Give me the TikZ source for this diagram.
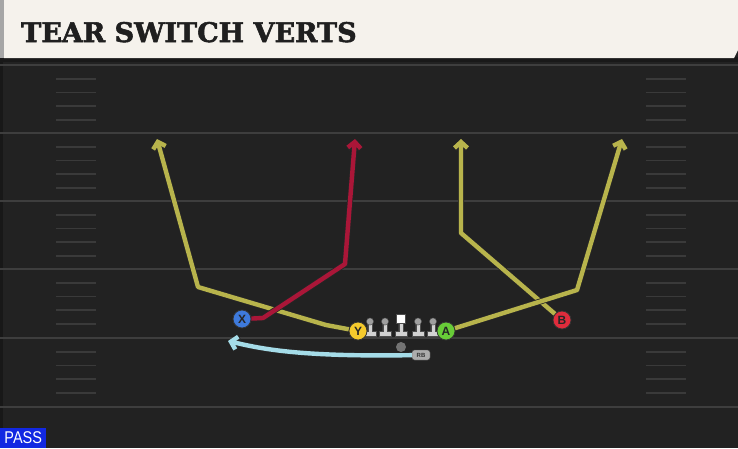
\documentclass[tikz,border=0pt]{standalone}
\usepackage{fontspec}
\usetikzlibrary{arrows.meta}
\newfontfamily\titlefont{DejaVu Serif}[BoldFeatures={FakeBold=2}]
\newfontfamily\labelfont{Liberation Sans}
\definecolor{field}{RGB}{34,34,34}
\definecolor{yardline}{RGB}{62,62,62}
\definecolor{hashgray}{RGB}{58,58,58}
\definecolor{headercream}{RGB}{245,242,236}
\definecolor{routeyellow}{RGB}{184,180,76}
\definecolor{routered}{RGB}{170,22,56}
\definecolor{routeblue}{RGB}{165,220,232}
\definecolor{xblue}{RGB}{62,122,220}
\definecolor{yyellow}{RGB}{245,202,44}
\definecolor{agreen}{RGB}{104,204,56}
\definecolor{bred}{RGB}{224,44,60}
\definecolor{passblue}{RGB}{18,40,226}
\definecolor{linegray}{RGB}{210,210,210}
\tikzset{
  route/.style={line width=4.4pt, line join=round,
    -{Straight Barb[length=6pt,width=13pt]},
    preaction={draw=black!85, line width=6pt}},
  player/.style={circle, draw=black!80, line width=0.8pt, minimum size=18pt,
    inner sep=0pt, text=black!85,
    font=\labelfont\bfseries\fontsize{12}{12}\selectfont}
}
\begin{document}
\begin{tikzpicture}[x=1pt, y=-1pt]
    \useasboundingbox (0,0) rectangle (738,448);
    % field
    \fill[field] (0,0) rectangle (738,448);
    \fill[black!30!field] (0,60) rectangle (3,448);
    \foreach \y in {65,133,201,269,338,407}
      \draw[yardline, line width=2pt] (0,\y) -- (738,\y);
    \foreach \y in {65,133,201,269,338}
      \foreach \k in {1,...,4} {
        \draw[hashgray, line width=1.6pt] (56,\y+\k*13.7) -- (96,\y+\k*13.7);
        \draw[hashgray, line width=1.6pt] (646,\y+\k*13.7) -- (686,\y+\k*13.7);
      }

    % header
    \fill[black!90] (0,57) rectangle (738,62);
    \fill[headercream] (4,0) -- (738,0) -- (738,50) -- (734,58) -- (4,58) -- cycle;
    \fill[gray!70] (0,0) rectangle (4,58);
    \node[anchor=base west, inner sep=0pt, text=black!88,
      font=\titlefont\bfseries\fontsize{27}{27}\selectfont] (title) at (21,42) {TEAR SWITCH VERTS};

    % line
    \foreach \x in {370,385,418,433} {
      \filldraw[fill=linegray, draw=black!70, line width=0.4pt]
        (\x-6,336) -- (\x+6,336) -- (\x+6,331) -- (\x+2.2,331) -- (\x+2.2,322)
        -- (\x-2.2,322) -- (\x-2.2,331) -- (\x-6,331) -- cycle;
      \filldraw[fill=gray!75, draw=black!70, line width=0.4pt] (\x,321.5) circle (3.6);
    }
    \filldraw[fill=linegray, draw=black!70, line width=0.4pt]
      (395,336) -- (407,336) -- (407,331) -- (403.2,331) -- (403.2,322)
      -- (398.8,322) -- (398.8,331) -- (395,331) -- cycle;
    \filldraw[fill=white, draw=black!70, line width=0.4pt] (396.5,314) rectangle (405.5,323);

    % players
    \node[player, fill=xblue] (X) at (242,319) {X};
    \node[player, fill=yyellow] (Y) at (358,331) {Y};
    \node[player, fill=agreen] (A) at (446,331) {A};
    \node[player, fill=bred] (B) at (562,320) {B};
    \node[circle, fill=black!55, minimum size=10pt, inner sep=0pt] (QB) at (401,347) {};
    \node[rounded corners=2.5pt, fill=gray!65, draw=black!70, line width=0.4pt,
      minimum width=18pt, minimum height=10pt, inner sep=0pt, text=black!80,
      font=\labelfont\bfseries\fontsize{6}{6}\selectfont] (RB) at (421,355) {RB};

    % route points
    \coordinate (y1) at (326,325);
    \coordinate (y2) at (198,287);
    \coordinate (ytip) at (157,139);
    \coordinate (x1) at (263,318);
    \coordinate (x2) at (345,264);
    \coordinate (xtip) at (355,139);
    \coordinate (a1) at (577,290);
    \coordinate (atip) at (622,139);
    \coordinate (b1) at (461,233);
    \coordinate (btip) at (461,139);
    \coordinate (rbtip) at (228,341);

    % routes
    \draw[route, routeyellow] (Y) -- (y1) -- (y2) -- (ytip);
    \draw[route, routered] (X) -- (x1) -- (x2) -- (xtip);
    \draw[route, routeyellow] (B) -- (b1) -- (btip);
    \draw[route, routeyellow] (A) -- (a1) -- (atip);
    \draw[route, routeblue] (RB) .. controls (300,357) and (262,349) .. (rbtip);

    % play type
    \node[anchor=south west, fill=passblue, text=white, minimum width=46pt,
      minimum height=20pt, inner sep=0pt,
      font=\labelfont\fontsize{17}{17}\selectfont] (pass) at (0,448) {\scalebox{0.85}[1]{PASS}};
\end{tikzpicture}
\end{document}
